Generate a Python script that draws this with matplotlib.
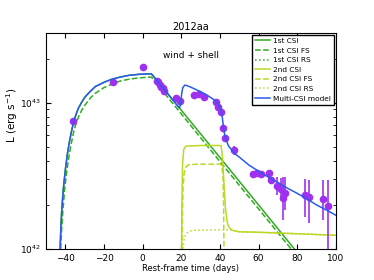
import numpy as np
import matplotlib
matplotlib.use("Agg")
import matplotlib.pyplot as plt

# Наблюдения (время, светимость, нижняя и верхняя граница ошибки)
obs_t = [-35.9, -15.5, 0.0, 7.3, 8.0, 8.8, 9.6, 10.4, 11.2, 17.1, 19.5,
         26.8, 29.4, 32.0, 38.0, 39.0, 40.5, 41.8, 42.4, 47.3,
         57.0, 59.0, 61.3, 65.3, 66.5, 69.4, 71.7, 72.7, 73.7,
         84.1, 86.0, 93.6, 95.9]
obs_L = [7.5e42, 1.39e43, 1.75e43, 1.42e43, 1.38e43, 1.33e43, 1.29e43, 1.26e43, 1.2e43, 1.07e43, 1.03e43,
         1.135e43, 1.15e43, 1.1e43, 1.01e43, 9.4e42, 8.7e42, 6.75e42, 5.75e42, 4.75e42,
         3.27e42, 3.33e42, 3.24e42, 3.29e42, 2.96e42, 2.69e42, 2.56e42, 2.22e42, 2.4e42,
         2.34e42, 2.25e42, 2.18e42, 1.96e42]
obs_lo = [7.3e42, 1.37e43, 1.72e43, 1.40e43, 1.36e43, 1.31e43, 1.27e43, 1.24e43, 1.18e43, 1.05e43, 1.01e43,
          1.12e43, 1.13e43, 1.08e43, 9.9e42, 9.2e42, 8.5e42, 6.6e42, 5.6e42, 4.4e42,
          3.15e42, 3.2e42, 3.1e42, 2.95e42, 2.8e42, 2.34e42, 2.28e42, 1.57e42, 1.85e42,
          1.66e42, 1.51e42, 1.57e42, 8e41]
obs_hi = [7.7e42, 1.41e43, 1.78e43, 1.44e43, 1.40e43, 1.35e43, 1.31e43, 1.28e43, 1.22e43, 1.09e43, 1.05e43,
          1.15e43, 1.17e43, 1.12e43, 1.03e43, 9.6e42, 8.9e42, 6.9e42, 5.9e42, 5.1e42,
          3.4e42, 3.45e42, 3.4e42, 3.46e42, 3.1e42, 3.12e42, 3.05e42, 3.12e42, 3.12e42,
          2.99e42, 2.95e42, 2.95e42, 2.95e42]

# 1-е взаимодействие (CSI)
csi1_t = [-43.2, -42.7, -42.3, -41.8, -41.0, -40.0, -39.0, -38.0, -37.0, -35.7, -34.5, -33.2, -31.5, -29.7,
          -27.0, -24.5, -20.0, -15.9, -11.5, -7.2, -2.0, 4.5, 20.0, 40.0, 60.0, 78.5, 85.0]
csi1_L = [5e41, 1.0e42, 1.4e42, 1.9e42, 2.6e42, 3.47e42, 4.4e42, 5.3e42, 6.2e42, 7.4e42, 8.3e42, 9.2e42,
          1.01e43, 1.1e43, 1.2e43, 1.29e43, 1.38e43, 1.45e43, 1.5e43, 1.54e43, 1.565e43, 1.58e43,
          8.9e42, 4.22e42, 2.0e42, 1.0e42, 7.85e41]
csi1_fs_t = [-43.0, -42.4, -42.0, -41.3, -40.3, -39.0, -38.0, -37.0, -35.7, -34.5, -33.0, -31.5, -29.7,
             -27.0, -24.5, -20.0, -16.0, -11.5, -7.0, -2.0, 4.5, 20.0, 40.0, 60.0, 76.8, 85.0]
csi1_fs_L = [4e41, 1.0e42, 1.3e42, 1.8e42, 2.6e42, 3.6e42, 4.4e42, 5.2e42, 6.3e42, 7.2e42, 8.1e42, 8.9e42,
             9.7e42, 1.08e43, 1.16e43, 1.27e43, 1.34e43, 1.41e43, 1.45e43, 1.48e43, 1.5e43,
             8.4e42, 3.96e42, 1.88e42, 1.0e42, 7.4e41]
csi1_rs_t = [-43.0, -40.0, -30.0, -15.0, 4.5, 30.0, 60.0, 100.0]
csi1_rs_L = [1e40, 2e41, 6e41, 7.5e41, 8e41, 3.2e41, 1.0e41, 2.5e40]

# 2-е взаимодействие
csi2_t = [20.0, 20.3, 20.7, 21.3, 22.3, 30.0, 40.6, 41.2, 41.8, 42.3, 42.8, 43.4, 44.0, 45.0, 46.5, 50.0, 60.0, 80.0, 100.0]
csi2_L = [5e41, 2.0e42, 3.9e42, 4.8e42, 5.05e42, 5.1e42, 5.1e42, 4.4e42, 3.3e42, 2.5e42, 1.95e42, 1.65e42,
          1.48e42, 1.39e42, 1.34e42, 1.31e42, 1.3e42, 1.27e42, 1.24e42]
csi2_fs_t = [20.3, 20.5, 20.9, 21.5, 22.5, 24.0, 30.0, 40.0, 41.0, 41.6, 41.9, 42.1, 42.3]
csi2_fs_L = [5e41, 1.5e42, 2.6e42, 3.3e42, 3.65e42, 3.78e42, 3.8e42, 3.8e42, 3.7e42, 3.1e42, 2.0e42, 1.0e42, 3e41]
csi2_rs_t = [20.3, 20.8, 21.5, 22.5, 24.0, 26.0, 40.0, 45.0, 46.5, 50.0, 60.0, 80.0, 100.0]
csi2_rs_L = [5e41, 1.0e42, 1.17e42, 1.27e42, 1.32e42, 1.34e42, 1.35e42, 1.35e42, 1.34e42, 1.31e42, 1.3e42, 1.27e42, 1.24e42]

# Суммарная модель
model_t = [-43.2, -42.7, -42.3, -41.8, -41.0, -40.0, -39.0, -38.0, -37.0, -35.7, -34.5, -33.2, -31.5, -29.7,
           -27.0, -24.5, -20.0, -15.9, -11.5, -7.2, -2.0, 4.5, 10.0, 15.0, 19.0,
           19.5, 20.2, 20.8, 21.8, 23.0, 26.0, 30.0, 33.0, 36.0, 38.0, 39.5, 40.6, 41.2, 41.8, 42.5, 43.2,
           44.5, 46.5, 48.0, 50.0, 55.0, 60.0, 65.0, 70.0, 75.0, 80.0, 85.0, 90.0, 95.0, 100.0]
model_L = [5e41, 1.0e42, 1.4e42, 1.9e42, 2.6e42, 3.47e42, 4.4e42, 5.3e42, 6.2e42, 7.4e42, 8.3e42, 9.2e42,
           1.01e43, 1.1e43, 1.2e43, 1.29e43, 1.38e43, 1.45e43, 1.5e43, 1.54e43, 1.565e43, 1.58e43,
           1.29e43, 1.07e43, 9.2e42, 9.6e42, 1.15e43, 1.27e43, 1.32e43, 1.31e43, 1.26e43, 1.19e43, 1.135e43,
           1.07e43, 1.02e43, 9.6e42, 8.9e42, 8.0e42, 6.9e42, 6.0e42, 5.6e42, 5.05e42, 4.7e42, 4.45e42, 4.25e42,
           3.75e42, 3.4e42, 3.1e42, 2.85e42, 2.6e42, 2.4e42, 2.2e42, 2.0e42, 1.85e42, 1.7e42]

green = "#33aa22"
yellow = "#bcd822"
blue = "#2a5ce8"
purple = "#a030f0"

plt.rcParams["xtick.direction"] = "in"
plt.rcParams["ytick.direction"] = "in"

fig = plt.figure(figsize=(3.74, 2.80), dpi=100)
ax = fig.add_axes([0.123, 0.111, 0.775, 0.771])

ax.errorbar(obs_t, obs_L,
            yerr=[np.array(obs_L) - np.array(obs_lo), np.array(obs_hi) - np.array(obs_L)],
            fmt="o", color=purple, ms=4.5, elinewidth=1.2, ecolor=purple, capsize=0, zorder=5)

lw = 1.1
ax.plot(csi1_t, csi1_L, "-", color=green, lw=lw, label="1st CSI")
ax.plot(csi1_fs_t, csi1_fs_L, "--", color=green, lw=lw, label="1st CSI FS")
ax.plot(csi1_rs_t, csi1_rs_L, ":", color=green, lw=lw, label="1st CSI RS")
ax.plot(csi2_t, csi2_L, "-", color=yellow, lw=lw, label="2nd CSI")
ax.plot(csi2_fs_t, csi2_fs_L, "--", color=yellow, lw=lw, label="2nd CSI FS")
ax.plot(csi2_rs_t, csi2_rs_L, ":", color=yellow, lw=lw, label="2nd CSI RS")
ax.plot(model_t, model_L, "-", color=blue, lw=lw, label="Multi-CSI model", zorder=6)

ax.set_yscale("log")
ax.set_xlim(-50, 100)
ax.set_ylim(1e42, 3e43)
ax.tick_params(which="both", top=True, right=True, labelsize=6.5)
ax.tick_params(which="major", length=3.5)
ax.tick_params(which="minor", length=2)

ax.set_title("2012aa", fontsize=7, pad=2.5)
ax.set_xlabel("Rest-frame time (days)", fontsize=6, labelpad=1)
ax.set_ylabel("L (erg s$^{-1}$)", fontsize=7.5)
ax.yaxis.set_label_coords(-0.09, 0.62)
ax.text(25, 2.1e43, "wind + shell", fontsize=6.5, ha="center", va="center")

ax.legend(loc="upper right", fontsize=5.3, handlelength=2.0, handletextpad=0.45, borderaxespad=0.25,
          labelspacing=0.47, fancybox=False, edgecolor="black", framealpha=1)

fig.savefig("out.png", dpi=100)
